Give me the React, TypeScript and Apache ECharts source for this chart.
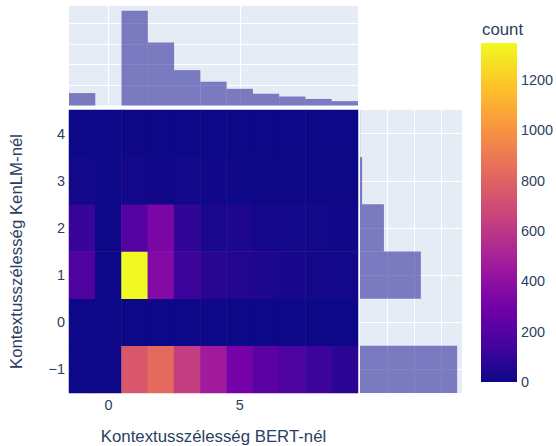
import React, { useEffect, useRef } from "react";
import * as echarts from "echarts";

// Bin centres of the 2D histogram
const xBins = [-1, 0, 1, 2, 3, 4, 5, 6, 7, 8, 9];
const yBins = [-1, 0, 1, 2, 3, 4];

// Counts per row (KenLM context width), one entry per BERT context width bin
const countsYm1 = [0, 0, 748, 830, 630, 465, 305, 220, 172, 125, 78];
const countsY0 = [0, 0, 0, 0, 0, 0, 0, 0, 0, 0, 0];
const countsY1 = [178, 0, 1346, 360, 125, 70, 55, 40, 28, 20, 16];
const countsY2 = [112, 0, 200, 330, 95, 38, 42, 22, 17, 13, 10];
const countsY3 = [12, 0, 16, 15, 12, 8, 5, 3, 2, 2, 2];
const countsY4 = [1, 0, 2, 1, 1, 0, 0, 0, 0, 0, 0];

const rows = [countsYm1, countsY0, countsY1, countsY2, countsY3, countsY4];

const plasma = [
  "#0d0887", "#46039f", "#7201a8", "#9c179e", "#bd3786",
  "#d8576b", "#ed7953", "#fb9f3a", "#fdca26", "#f0f921",
];

const xLabelsShown = ["0", "5"];
const xTitle = "Kontextusszélesség BERT-nél";
const yTitle = "Kontextusszélesség KenLM-nél";
const colorbarTitle = "count";

const FONT = '"Liberation Sans", Arial, sans-serif';
const TEXT = "#2a3f5f";
const PLOT_BG = "#E5ECF6";
const MARGINAL = "#0d0887";
const TICK_SIZE = 14.4;
const TITLE_SIZE = 16.8;

const minus = (v: string | number) => String(v).replace("-", "\u2212");

export default function App() {
  const ref = useRef<HTMLDivElement>(null);

  useEffect(() => {
    if (!ref.current) return;
    const chart = echarts.init(ref.current, undefined, { renderer: "svg" });

    const heatData: number[][] = [];
    rows.forEach((r, yi) => r.forEach((v, xi) => heatData.push([xi, yi, v])));
    const zmax = Math.max(...rows.flat());
    const colSums = xBins.map((_, xi) => rows.reduce((s, r) => s + r[xi], 0));
    const rowSums = rows.map((r) => r.reduce((s, v) => s + v, 0));

    const whiteSplit = {
      show: true,
      showMinLine: false,
      showMaxLine: false,
      lineStyle: { color: "#ffffff", width: 1 },
    };
    const hiddenBits = {
      axisLabel: { show: false },
      axisLine: { show: false },
      axisTick: { show: false },
    };

    const marginalStyle = { fill: MARGINAL, opacity: 0.5 };
    const gridBase = { outerBoundsMode: "none", containLabel: false, borderWidth: 0 };

    chart.setOption({
      animation: false,
      textStyle: { fontFamily: FONT, color: TEXT },
      title: {
        text: colorbarTitle,
        left: 482,
        top: 21,
        padding: 0,
        textStyle: { fontFamily: FONT, color: TEXT, fontSize: TITLE_SIZE, fontWeight: "normal" },
      },
      grid: [
        { ...gridBase, left: 69, top: 110, width: 289, height: 283, show: true, backgroundColor: PLOT_BG },
        { ...gridBase, left: 69, top: 6, width: 289, height: 99.5, show: true, backgroundColor: PLOT_BG },
        { ...gridBase, left: 360, top: 110, width: 102, height: 283, show: true, backgroundColor: PLOT_BG },
        { ...gridBase, left: 481, top: 43, width: 36, height: 339, show: false },
      ],
      xAxis: [
        {
          type: "category",
          gridIndex: 0,
          data: xBins.map(String),
          axisLine: { show: false },
          axisTick: { show: false },
          splitLine: { show: false },
          axisLabel: {
            interval: (_i: number, v: string) => xLabelsShown.includes(v),
            formatter: minus,
            margin: 5,
            fontSize: TICK_SIZE,
            color: TEXT,
            fontFamily: FONT,
          },
          name: xTitle,
          nameLocation: "middle",
          nameGap: 35,
          nameTextStyle: { fontSize: TITLE_SIZE, color: TEXT, fontFamily: FONT },
        },
        { type: "value", gridIndex: 1, min: -1.5, max: 9.5, splitNumber: 2, splitLine: whiteSplit, ...hiddenBits },
        { type: "value", gridIndex: 2, min: 0, max: Math.max(...rowSums) * 1.05, interval: 1000, splitLine: whiteSplit, ...hiddenBits },
        { type: "value", gridIndex: 3, min: 0, max: 1, show: false },
      ],
      yAxis: [
        {
          type: "category",
          gridIndex: 0,
          data: yBins.map(String),
          axisLine: { show: false },
          axisTick: { show: false },
          splitLine: { show: false },
          axisLabel: { formatter: minus, margin: 4, fontSize: TICK_SIZE, color: TEXT, fontFamily: FONT },
          name: yTitle,
          nameLocation: "middle",
          nameRotate: 90,
          nameGap: 44,
          nameTextStyle: { fontSize: TITLE_SIZE, color: TEXT, fontFamily: FONT },
        },
        { type: "value", gridIndex: 1, min: 0, max: Math.max(...colSums) * 1.05, interval: 500, splitLine: whiteSplit, ...hiddenBits },
        { type: "value", gridIndex: 2, min: -1.5, max: 4.5, splitNumber: 6, splitLine: whiteSplit, ...hiddenBits },
        {
          type: "value",
          gridIndex: 3,
          position: "right",
          min: 0,
          max: zmax,
          interval: 200,
          axisLine: { show: false },
          axisTick: { show: false },
          splitLine: { show: false },
          axisLabel: {
            showMaxLabel: false,
            margin: 4,
            fontSize: TICK_SIZE,
            color: TEXT,
            fontFamily: FONT,
            formatter: (v: number) => (v % 200 === 0 ? String(v) : ""),
          },
        },
      ],
      visualMap: {
        type: "continuous",
        show: false,
        min: 0,
        max: zmax,
        dimension: 2,
        seriesIndex: 0,
        inRange: { color: plasma },
      },
      series: [
        {
          type: "heatmap",
          xAxisIndex: 0,
          yAxisIndex: 0,
          data: heatData,
          itemStyle: { borderWidth: 0 },
          emphasis: { disabled: true },
        },
        {
          type: "custom",
          xAxisIndex: 1,
          yAxisIndex: 1,
          data: xBins.map((x, i) => [x, colSums[i]]),
          renderItem: (_p: any, api: any) => {
            const x = api.value(0);
            const c = api.value(1);
            const a = api.coord([x - 0.5, c]);
            const b = api.coord([x + 0.5, 0]);
            return {
              type: "rect",
              shape: { x: a[0], y: a[1], width: b[0] - a[0], height: b[1] - a[1] },
              style: marginalStyle,
            };
          },
        },
        {
          type: "custom",
          xAxisIndex: 2,
          yAxisIndex: 2,
          data: yBins.map((y, i) => [rowSums[i], y]),
          renderItem: (_p: any, api: any) => {
            const c = api.value(0);
            const y = api.value(1);
            const a = api.coord([0, y + 0.5]);
            const b = api.coord([c, y - 0.5]);
            return {
              type: "rect",
              shape: { x: a[0], y: a[1], width: b[0] - a[0], height: b[1] - a[1] },
              style: marginalStyle,
            };
          },
        },
        {
          type: "custom",
          xAxisIndex: 3,
          yAxisIndex: 3,
          data: [[0, zmax]],
          renderItem: (_p: any, api: any) => {
            const a = api.coord([0, api.value(1)]);
            const b = api.coord([1, 0]);
            return {
              type: "rect",
              shape: { x: a[0], y: a[1], width: b[0] - a[0], height: b[1] - a[1] },
              style: {
                fill: new echarts.graphic.LinearGradient(
                  0, 1, 0, 0,
                  plasma.map((color, i) => ({ offset: i / (plasma.length - 1), color }))
                ),
              },
            };
          },
        },
      ],
    });

    return () => chart.dispose();
  }, []);

  return (
    <div
      ref={ref}
      style={{ position: "fixed", left: 0, top: 0, width: 556, height: 446, background: "#fff" }}
    />
  );
}
